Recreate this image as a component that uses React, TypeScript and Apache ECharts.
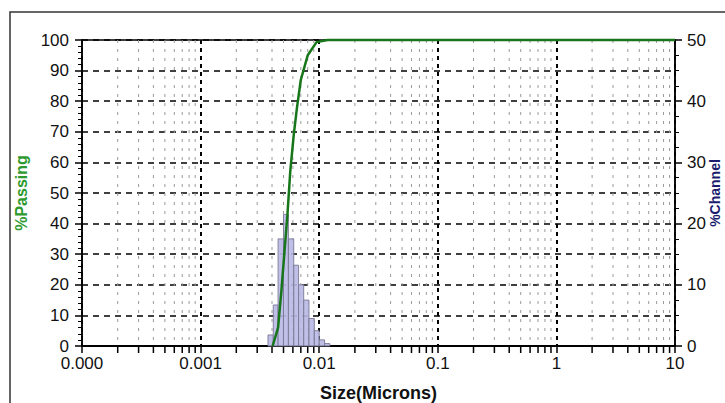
import React, { useEffect, useRef } from "react";
import * as echarts from "echarts";

// X axis tick labels for decades 0.0001 .. 10
const xTickLabels = ["0.000", "0.001", "0.01", "0.1", "1", "10"];

// Cumulative % passing curve
const passSize = [0.00405, 0.0045, 0.0048, 0.0051, 0.0054, 0.0057, 0.0061, 0.0065, 0.0070, 0.0080, 0.0095, 0.0118, 10];
const passPct = [0, 6, 18, 31, 43, 57, 69, 78, 87, 95, 99.3, 100, 100];

// Histogram channels (% channel, right axis)
const binLo = [0.0037, 0.0041, 0.0045, 0.0050, 0.0055, 0.0061, 0.0067, 0.0074, 0.0082, 0.0091, 0.0100, 0.0111];
const binHi = [0.0041, 0.0045, 0.0050, 0.0055, 0.0061, 0.0067, 0.0074, 0.0082, 0.0091, 0.0100, 0.0111, 0.0123];
const channelPct = [1.8, 6.7, 17.5, 21.5, 17.5, 13.2, 10, 7.5, 4.5, 2.5, 1.0, 0.4];

const decades = [0.0001, 0.001, 0.01, 0.1, 1];
const minorMultipliers = [2, 3, 4, 5, 6, 7, 8, 9];

const FONT = "'Liberation Sans', Arial, sans-serif";

export default function App() {
  const ref = useRef<HTMLDivElement>(null);
  useEffect(() => {
    if (!ref.current) return;
    const chart = echarts.init(ref.current, undefined, { renderer: "svg" });
    const minorSizes: number[] = [];
    decades.forEach((d) => minorMultipliers.forEach((m) => minorSizes.push(+(d * m).toPrecision(3))));

    chart.setOption({
      animation: false,
      backgroundColor: "#ffffff",
      textStyle: { fontFamily: FONT },
      grid: {
        left: 82,
        right: 50,
        top: 40,
        bottom: 57,
        containLabel: false,
        outerBoundsMode: "none",
        show: true,
        borderColor: "#000",
        borderWidth: 1.5,
        backgroundColor: "transparent",
      },
      graphic: [
        {
          type: "rect",
          shape: { x: 10, y: 12, width: 740, height: 420 },
          style: { fill: "none", stroke: "#333", lineWidth: 1.5 },
          silent: true,
        },
        {
          type: "text",
          x: 715,
          y: 193,
          rotation: Math.PI / 2,
          silent: true,
          style: {
            text: "%Channel",
            fill: "#1c1c6e",
            font: `bold 14px ${FONT}`,
            align: "center",
            verticalAlign: "middle",
          },
        },
      ],
      xAxis: {
        type: "log",
        logBase: 10,
        min: 0.0001,
        max: 10,
        name: "Size(Microns)",
        nameLocation: "middle",
        nameGap: 38,
        nameTextStyle: { fontSize: 18, fontWeight: "bold", color: "#111", fontFamily: FONT },
        axisLine: { lineStyle: { color: "#000", width: 2 } },
        axisTick: { show: true, length: 7, lineStyle: { color: "#000", width: 1.5 } },
        axisLabel: {
          fontSize: 17,
          color: "#111",
          margin: 9,
          fontFamily: FONT,
          formatter: (v: number) => {
            const i = Math.round(Math.log10(v)) + 4;
            return xTickLabels[i] ?? "";
          },
        },
        splitLine: { show: true, lineStyle: { color: "#000", width: 2, type: [4, 4] } },
      },
      yAxis: [
        {
          type: "value",
          min: 0,
          max: 100,
          interval: 10,
          name: "%Passing",
          nameLocation: "middle",
          nameRotate: 90,
          nameGap: 50,
          nameTextStyle: { fontSize: 16, fontWeight: "bold", color: "#2e9a2e", fontFamily: FONT },
          axisLine: { show: true, lineStyle: { color: "#000", width: 1.5 } },
          axisTick: { show: true, length: 7, lineStyle: { color: "#000", width: 1.5 } },
          minorTick: { show: true, splitNumber: 5, length: 4, lineStyle: { color: "#000", width: 1 } },
          axisLabel: { fontSize: 17, color: "#111", margin: 13, fontFamily: FONT },
          splitLine: { show: true, lineStyle: { color: "#000", width: 1.5, type: [6, 5] } },
        },
        {
          type: "value",
          min: 0,
          max: 50,
          interval: 10,
          axisLine: { show: true, lineStyle: { color: "#000", width: 1.5 } },
          axisTick: { show: true, length: 7, lineStyle: { color: "#000", width: 1.5 } },
          minorTick: { show: true, splitNumber: 4, length: 4, lineStyle: { color: "#000", width: 1 } },
          axisLabel: { fontSize: 17, color: "#111", margin: 12, fontFamily: FONT },
          splitLine: { show: false },
        },
      ],
      series: [
        {
          type: "custom",
          name: "minor",
          silent: true,
          clip: false,
          z: 1,
          xAxisIndex: 0,
          yAxisIndex: 0,
          encode: { x: 0, y: 1 },
          data: minorSizes.map((v) => [v, 0]),
          renderItem: (_p: any, api: any) => {
            const v = api.value(0);
            const top = api.coord([v, 100]);
            const bot = api.coord([v, 0]);
            return {
              type: "group",
              children: [
                {
                  type: "line",
                  shape: { x1: top[0], y1: top[1], x2: bot[0], y2: bot[1] },
                  style: { stroke: "#9a9a9a", lineWidth: 1, lineDash: [3, 6] },
                },
                {
                  type: "line",
                  shape: { x1: bot[0], y1: bot[1], x2: bot[0], y2: bot[1] + 7 },
                  style: { stroke: "#000", lineWidth: 1.5 },
                },
              ],
            };
          },
        },
        {
          type: "custom",
          name: "% Channel",
          xAxisIndex: 0,
          yAxisIndex: 1,
          z: 3,
          encode: { x: [0, 1], y: 2 },
          data: binLo.map((lo, i) => [lo, binHi[i], channelPct[i]]),
          renderItem: (_p: any, api: any) => {
            const p0 = api.coord([api.value(0), api.value(2)]);
            const p1 = api.coord([api.value(1), 0]);
            return {
              type: "rect",
              shape: { x: p0[0], y: p0[1], width: p1[0] - p0[0], height: p1[1] - p0[1] },
              style: { fill: "#b8b8e4", stroke: "#7a7a96", lineWidth: 1, opacity: 0.9 },
            };
          },
        },
        {
          type: "line",
          name: "% Passing",
          xAxisIndex: 0,
          yAxisIndex: 0,
          z: 5,
          clip: false,
          showSymbol: false,
          smooth: false,
          data: passSize.map((x, i) => [x, passPct[i]]),
          lineStyle: { color: "#17751a", width: 2.5 },
          itemStyle: { color: "#17751a" },
        },
      ],
    });
    return () => chart.dispose();
  }, []);
  return (
    <div
      ref={ref}
      style={{ position: "fixed", left: 0, top: 0, width: 725, height: 403, background: "#fff" }}
    />
  );
}
